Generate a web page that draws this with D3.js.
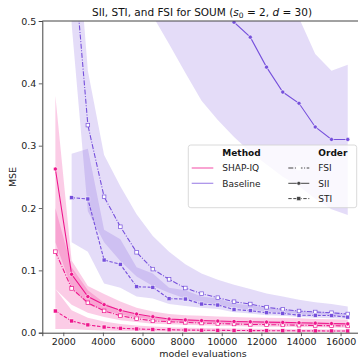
<!DOCTYPE html>
<html><head><meta charset="utf-8">
<script src="https://cdn.jsdelivr.net/npm/d3@7"></script>
<style>body{margin:0;background:#fff} svg{display:block;font-family:"DejaVu Sans",sans-serif}</style>
</head><body><svg id="c" width="358" height="360"></svg>
<script>
// ---- data ----
const evals = [1600, 2420, 3240, 4060, 4880, 5700, 6520, 7340, 8160, 8980, 9800, 10620, 11440, 12260, 13080, 13900, 14720, 15540, 16360];
const xTicks = [2000, 4000, 6000, 8000, 10000, 12000, 14000, 16000];
const yTicks = [0.0, 0.1, 0.2, 0.3, 0.4, 0.5];
const methods = ["SHAP-IQ", "Baseline"];
const orders = ["FSI", "SII", "STI"];

const shapiqFSI   = [0.13, 0.071, 0.048, 0.035, 0.0273, 0.0225, 0.019, 0.0176, 0.0166, 0.0155, 0.0148, 0.014, 0.0133, 0.013, 0.0125, 0.012, 0.0116, 0.0112, 0.0108];
const shapiqFSILo = [0.07, 0.045, 0.032, 0.025, 0.02, 0.017, 0.0145, 0.0135, 0.0127, 0.0118, 0.0112, 0.0106, 0.01, 0.0097, 0.0094, 0.009, 0.0087, 0.0084, 0.0081];
const shapiqFSIHi = [0.2, 0.105, 0.068, 0.048, 0.036, 0.029, 0.0245, 0.0225, 0.0208, 0.0195, 0.0185, 0.0176, 0.0167, 0.0162, 0.0157, 0.0152, 0.0147, 0.0142, 0.0137];
const shapiqSII   = [0.2626, 0.0937, 0.058, 0.045, 0.036, 0.030, 0.0257, 0.022, 0.0205, 0.0195, 0.0187, 0.018, 0.0175, 0.017, 0.0165, 0.016, 0.0153, 0.0147, 0.0142];
const shapiqSIILo = [0.145, 0.072, 0.045, 0.036, 0.029, 0.0245, 0.021, 0.018, 0.017, 0.016, 0.0153, 0.0148, 0.0143, 0.0139, 0.0135, 0.013, 0.0125, 0.012, 0.0115];
const shapiqSIIHi = [0.38, 0.116, 0.075, 0.062, 0.05, 0.04, 0.034, 0.03, 0.028, 0.027, 0.026, 0.025, 0.0245, 0.024, 0.0235, 0.023, 0.022, 0.0215, 0.021];
const shapiqSTI   = [0.0348, 0.0188, 0.0125, 0.0091, 0.0072, 0.006, 0.0052, 0.0047, 0.0043, 0.004, 0.0038, 0.0036, 0.0034, 0.0032, 0.0031, 0.003, 0.0029, 0.0028, 0.0027];
const shapiqSTILo = [0.006, 0.006, 0.0045, 0.0035, 0.003, 0.0026, 0.0023, 0.0021, 0.0019, 0.0018, 0.0017, 0.0016, 0.0015, 0.0014, 0.0014, 0.0013, 0.0013, 0.0012, 0.0012];
const shapiqSTIHi = [0.07, 0.036, 0.024, 0.018, 0.014, 0.0115, 0.0098, 0.0088, 0.008, 0.0074, 0.007, 0.0066, 0.0063, 0.006, 0.0058, 0.0056, 0.0054, 0.0052, 0.005];

const baseFSI   = [null, 0.64, 0.333, 0.218, 0.170, 0.129, 0.102, 0.0856, 0.0717, 0.0626, 0.0562, 0.0497, 0.046, 0.0407, 0.0375, 0.0348, 0.0332, 0.032, 0.030];
const baseFSILo = [null, 0.495, 0.195, 0.145, 0.115, 0.09, 0.075, 0.064, 0.055, 0.049, 0.045, 0.04, 0.037, 0.034, 0.032, 0.03, 0.029, 0.028, 0.026];
const baseFSIHi = [null, 0.75, 0.42, 0.285, 0.235, 0.19, 0.155, 0.13, 0.11, 0.095, 0.085, 0.077, 0.07, 0.063, 0.058, 0.053, 0.049, 0.046, 0.042];
const baseSII   = [null, 2.2, 1.9, 1.6, 1.4, 1.2, 1.05, 0.92, 0.8, 0.7, 0.6, 0.498, 0.474, 0.426, 0.386, 0.368, 0.330, 0.310, 0.310];
const baseSIILo = [null, 1.5, 1.25, 1.0, 0.8, 0.62, 0.508, 0.463, 0.417, 0.372, 0.341, 0.314, 0.29, 0.27, 0.25, 0.235, 0.215, 0.198, 0.189];
const baseSIIHi = [null, 3.0, 2.6, 2.3, 2.0, 1.8, 1.6, 1.4, 1.25, 1.1, 0.95, 0.82, 0.72, 0.63, 0.54, 0.505, 0.447, 0.42, 0.43];
const baseSTI   = [null, 0.2166, 0.2145, 0.1166, 0.1097, 0.0738, 0.0728, 0.0545, 0.054, 0.046, 0.0444, 0.0372, 0.0353, 0.032, 0.031, 0.028, 0.0278, 0.0275, 0.025];
const baseSTILo = [null, 0.145, 0.13, 0.079, 0.072, 0.058, 0.055, 0.046, 0.043, 0.04, 0.038, 0.033, 0.031, 0.028, 0.027, 0.025, 0.024, 0.023, 0.022];
const baseSTIHi = [null, 0.287, 0.295, 0.165, 0.15, 0.105, 0.095, 0.072, 0.068, 0.058, 0.055, 0.047, 0.044, 0.04, 0.038, 0.035, 0.034, 0.033, 0.031];

// ---- assemble ----
const colors = {"SHAP-IQ": "#ee168c", "Baseline": "#7650dc"};
const dashes = {"FSI": "5,1.6,1,1.6", "SII": null, "STI": "3.4,1.6"};
const series = [
  {m: "SHAP-IQ", o: "FSI", v: shapiqFSI, lo: shapiqFSILo, hi: shapiqFSIHi},
  {m: "SHAP-IQ", o: "SII", v: shapiqSII, lo: shapiqSIILo, hi: shapiqSIIHi},
  {m: "SHAP-IQ", o: "STI", v: shapiqSTI, lo: shapiqSTILo, hi: shapiqSTIHi},
  {m: "Baseline", o: "FSI", v: baseFSI, lo: baseFSILo, hi: baseFSIHi},
  {m: "Baseline", o: "SII", v: baseSII, lo: baseSIILo, hi: baseSIIHi},
  {m: "Baseline", o: "STI", v: baseSTI, lo: baseSTILo, hi: baseSTIHi}
];

const L = 42.3, R = 362, T = 21, B = 332.7;
const x = d3.scaleLinear().domain([940, 17080]).range([L, R]);
const y = d3.scaleLinear().domain([0, 0.5]).range([B, T]);

const svg = d3.select("#c");
svg.append("defs").append("clipPath").attr("id", "clip")
  .append("rect").attr("x", L).attr("y", T).attr("width", R - L).attr("height", B - T);

const plot = svg.append("g").attr("clip-path", "url(#clip)");

const pts = s => evals.map((e, i) => ({x: e, v: s.v[i], lo: s.lo[i], hi: s.hi[i]})).filter(d => d.v != null);

const area = d3.area().x(d => x(d.x)).y0(d => y(d.lo)).y1(d => y(d.hi));
const line = d3.line().x(d => x(d.x)).y(d => y(d.v));

series.forEach(s => {
  plot.append("path").attr("d", area(pts(s))).attr("fill", colors[s.m])
    .attr("fill-opacity", s.m === "SHAP-IQ" ? 0.22 : 0.2).attr("stroke", "none");
});
series.forEach(s => {
  const c = colors[s.m];
  const p = pts(s);
  plot.append("path").attr("d", line(p)).attr("fill", "none").attr("stroke", c)
    .attr("stroke-width", 1.1).attr("stroke-dasharray", dashes[s.o]);
  const g = plot.append("g");
  p.forEach(d => {
    const cx = x(d.x), cy = y(d.v);
    if (s.o === "SII") {
      g.append("circle").attr("cx", cx).attr("cy", cy).attr("r", 2.1).attr("fill", c).attr("stroke", "#fff").attr("stroke-width", 0.6);
    } else if (s.o === "STI") {
      g.append("rect").attr("x", cx - 2).attr("y", cy - 2).attr("width", 4).attr("height", 4).attr("fill", c).attr("stroke", "#fff").attr("stroke-width", 0.5);
    } else {
      g.append("rect").attr("x", cx - 1.8).attr("y", cy - 1.8).attr("width", 3.6).attr("height", 3.6).attr("fill", "#fff").attr("stroke", c).attr("stroke-width", 0.7);
    }
  });
});

// ---- axes ----
const axisColor = "#444";
const yAxis = svg.append("g").attr("transform", `translate(${L},0)`)
  .call(d3.axisLeft(y).tickValues(yTicks).tickFormat(d3.format(".1f")).tickSize(3.5).tickPadding(2.5));
const xAxis = svg.append("g").attr("transform", `translate(0,${B})`)
  .call(d3.axisBottom(x).tickValues(xTicks).tickFormat(d3.format("d")).tickSize(3.5).tickPadding(2));
[xAxis, yAxis].forEach(a => {
  a.select(".domain").attr("stroke", axisColor).attr("stroke-width", 1);
  a.selectAll(".tick line").attr("stroke", axisColor).attr("stroke-width", 0.8);
  a.selectAll(".tick text").attr("fill", "#222").style("font-size", "9.5px").style("font-family", '"DejaVu Sans",sans-serif');
});
// top spine
svg.append("line").attr("x1", L).attr("x2", R).attr("y1", T).attr("y2", T).attr("stroke", axisColor).attr("stroke-width", 1);

svg.append("text").attr("x", 203).attr("y", 357).attr("text-anchor", "middle")
  .style("font-size", "9.5px").attr("fill", "#222").text("model evaluations");
svg.append("text").attr("transform", "translate(16,177) rotate(-90)").attr("text-anchor", "middle")
  .style("font-size", "9.5px").attr("fill", "#222").text("MSE");

// title
const title = svg.append("text").attr("x", 202).attr("y", 16).attr("text-anchor", "middle").style("font-size", "10.5px").attr("fill", "#111");
title.append("tspan").text("SII, STI, and FSI for SOUM (");
title.append("tspan").style("font-style", "italic").text("s");
title.append("tspan").attr("dy", 2).style("font-size", "7.5px").text("0");
title.append("tspan").attr("dy", -2).text(" = 2, ");
title.append("tspan").style("font-style", "italic").text("d");
title.append("tspan").text(" = 30)");

// ---- legend ----
const lg = svg.append("g");
lg.append("rect").attr("x", 188.3).attr("y", 145).attr("width", 168.4).attr("height", 62.7).attr("rx", 2.5)
  .attr("fill", "#fff").attr("fill-opacity", 0.8).attr("stroke", "#d0d0d0").attr("stroke-width", 0.8);
const rowY = [155.9, 171.2, 186.5, 201.8];
lg.append("text").attr("x", 222.3).attr("y", rowY[0]).style("font-size", "9px").style("font-weight", "bold").attr("fill", "#111").text("Method");
lg.append("text").attr("x", 318.3).attr("y", rowY[0]).style("font-size", "9px").style("font-weight", "bold").attr("fill", "#111").text("Order");
methods.forEach((m, i) => {
  const yy = rowY[i + 1];
  lg.append("line").attr("x1", 191.7).attr("x2", 213.3).attr("y1", yy - 3.2).attr("y2", yy - 3.2)
    .attr("stroke", colors[m]).attr("stroke-opacity", 0.65).attr("stroke-width", 1.2);
  lg.append("text").attr("x", 222.3).attr("y", yy).style("font-size", "9px").attr("fill", "#222").text(m);
});
orders.forEach((o, i) => {
  const yy = rowY[i + 1];
  const hy = yy - 3.2;
  lg.append("line").attr("x1", 288.3).attr("x2", 309.3).attr("y1", hy).attr("y2", hy)
    .attr("stroke", "#444").attr("stroke-width", 1).attr("stroke-dasharray", dashes[o]);
  const cx = 298.8;
  if (o === "SII") lg.append("circle").attr("cx", cx).attr("cy", hy).attr("r", 1.9).attr("fill", "#444").attr("stroke", "#fff").attr("stroke-width", 0.5);
  else if (o === "STI") lg.append("rect").attr("x", cx - 2).attr("y", hy - 2).attr("width", 4).attr("height", 4).attr("fill", "#444").attr("stroke", "#fff").attr("stroke-width", 0.5);
  else lg.append("rect").attr("x", cx - 2).attr("y", hy - 2).attr("width", 4).attr("height", 4).attr("fill", "#fff").attr("stroke", "#fff").attr("stroke-width", 0.5);
  lg.append("text").attr("x", 318.3).attr("y", yy).style("font-size", "9px").attr("fill", "#222").text(o);
});
</script></body></html>
